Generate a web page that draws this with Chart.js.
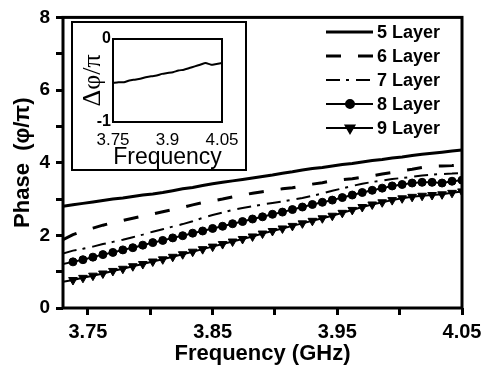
<!DOCTYPE html>
<html>
<head>
<meta charset="utf-8">
<script src="https://cdn.jsdelivr.net/npm/chart.js@4.4.1/dist/chart.umd.min.js"></script>
<style>
  body { margin: 0; background: #fff; }
  #wrap { position: relative; width: 488px; height: 370px; }
  #mainChart { position: absolute; left: 0; top: 0; }
  #insetChart { position: absolute; left: 71px; top: 21px; }
</style>
</head>
<body>
<div id="wrap">
  <canvas id="mainChart" width="488" height="370"></canvas>
  <canvas id="insetChart" width="177" height="150"></canvas>
</div>
<script>
// ============================================
// data
// ============================================
const freqs = [
  3.730, 3.738, 3.746, 3.754, 3.762, 3.770, 3.778, 3.786, 3.794, 3.802,
  3.810, 3.818, 3.826, 3.834, 3.842, 3.850, 3.858, 3.866, 3.874, 3.882,
  3.890, 3.898, 3.906, 3.914, 3.922, 3.930, 3.938, 3.946, 3.954, 3.962,
  3.970, 3.978, 3.986, 3.994, 4.002, 4.010, 4.018, 4.026, 4.034, 4.042,
  4.050,
];
const layer5 = [
  2.80, 2.84, 2.88, 2.92, 2.96, 3.00, 3.03, 3.07, 3.11, 3.14,
  3.18, 3.23, 3.28, 3.32, 3.37, 3.42, 3.46, 3.50, 3.54, 3.58,
  3.62, 3.66, 3.71, 3.75, 3.80, 3.84, 3.87, 3.91, 3.95, 3.98,
  4.02, 4.06, 4.09, 4.13, 4.16, 4.20, 4.23, 4.26, 4.29, 4.32,
  4.35,
];
const layer6 = [
  1.88, 2.02, 2.12, 2.20, 2.28, 2.35, 2.41, 2.47, 2.53, 2.59,
  2.65, 2.71, 2.77, 2.84, 2.90, 2.95, 3.00, 3.06, 3.11, 3.16,
  3.20, 3.24, 3.28, 3.31, 3.36, 3.41, 3.45, 3.50, 3.53, 3.56,
  3.60, 3.64, 3.69, 3.73, 3.78, 3.82, 3.87, 3.90, 3.91, 3.92,
  3.94,
];
const layer7 = [
  1.50, 1.58, 1.63, 1.69, 1.76, 1.82, 1.88, 1.95, 2.02, 2.10,
  2.17, 2.24, 2.31, 2.39, 2.48, 2.56, 2.63, 2.70, 2.75, 2.80,
  2.85, 2.89, 2.93, 2.98, 3.03, 3.09, 3.15, 3.23, 3.29, 3.36,
  3.42, 3.47, 3.51, 3.55, 3.58, 3.61, 3.65, 3.67, 3.69, 3.70,
  3.72,
];
const layer8 = [
  1.21, 1.27, 1.33, 1.40, 1.47, 1.53, 1.60, 1.66, 1.73, 1.80,
  1.86, 1.93, 1.99, 2.06, 2.12, 2.19, 2.25, 2.32, 2.38, 2.45,
  2.51, 2.58, 2.64, 2.71, 2.78, 2.85, 2.91, 2.97, 3.04, 3.11,
  3.18, 3.24, 3.30, 3.36, 3.40, 3.44, 3.46, 3.46, 3.44, 3.49,
  3.52,
];
const layer9 = [
  0.72, 0.77, 0.83, 0.89, 0.95, 1.02, 1.08, 1.15, 1.21, 1.28,
  1.34, 1.41, 1.48, 1.55, 1.62, 1.69, 1.76, 1.83, 1.90, 1.97,
  2.05, 2.12, 2.19, 2.26, 2.33, 2.40, 2.47, 2.54, 2.62, 2.70,
  2.78, 2.85, 2.91, 2.97, 3.02, 3.06, 3.09, 3.11, 3.13, 3.17,
  3.21,
];
const layerNames = ["5 Layer", "6 Layer", "7 Layer", "8 Layer", "9 Layer"];

const xTickValues = [3.75, 3.80, 3.85, 3.90, 3.95, 4.00, 4.05];
const xTickLabels = ["3.75", "", "3.85", "", "3.95", "", "4.05"];
const yTickLabels = ["0", "", "2", "", "4", "", "6", "", "8"];

// inset: phase difference
const insetFreqs = [
  3.750, 3.765, 3.780, 3.795, 3.810, 3.825, 3.840, 3.855, 3.870, 3.885,
  3.900, 3.915, 3.930, 3.945, 3.960, 3.975, 3.990, 4.005, 4.020, 4.035,
  4.050,
];
const insetPhase = [
  -0.53, -0.52, -0.52, -0.50, -0.49, -0.48, -0.46, -0.45, -0.44, -0.42,
  -0.41, -0.40, -0.38, -0.37, -0.35, -0.33, -0.31, -0.29, -0.31, -0.30,
  -0.29,
];
const insetXTicks = [3.75, 3.9, 4.05];
const insetXLabels = ["3.75", "3.9", "4.05"];

// ============================================
// helpers
// ============================================
const SANS = "'Liberation Sans', Arial, sans-serif";

function toPoints(xs, ys) {
  return xs.map((x, i) => ({ x: x, y: ys[i] }));
}

const frameBox = {
  id: "frameBox",
  beforeDraw(chart) {
    const ctx = chart.ctx;
    ctx.save();
    ctx.fillStyle = "#fff";
    ctx.fillRect(0, 0, chart.width, chart.height);
    ctx.restore();
  },
  afterDatasetsDraw(chart, args, opts) {
    const a = chart.chartArea;
    const ctx = chart.ctx;
    ctx.save();
    ctx.strokeStyle = "#000";
    ctx.lineWidth = opts.width || 3;
    ctx.strokeRect(a.left, a.top, a.right - a.left, a.bottom - a.top);
    if (opts.outer) {
      ctx.lineWidth = 2;
      ctx.strokeRect(1, 1, chart.width - 3, chart.height - 2);
    }
    ctx.restore();
  },
};

const layerLegend = {
  id: "layerLegend",
  afterDraw(chart) {
    const ctx = chart.ctx;
    chart.data.datasets.forEach((ds, i) => {
      const y = 32 + i * 24;
      ctx.save();
      ctx.strokeStyle = "#000";
      ctx.fillStyle = "#000";
      ctx.lineWidth = ds.borderWidth;
      ctx.setLineDash(ds.borderDash || []);
      ctx.beginPath();
      ctx.moveTo(326, y);
      ctx.lineTo(373, y);
      ctx.stroke();
      ctx.setLineDash([]);
      if (ds.markerRadius) {
        Chart.helpers.drawPoint(
          ctx,
          {
            pointStyle: ds.pointStyle,
            rotation: ds.pointRotation || 0,
            radius: ds.markerRadius,
            borderWidth: 1,
          },
          350,
          y,
        );
      }
      ctx.font = "bold 18px " + SANS;
      ctx.textBaseline = "middle";
      ctx.fillText(ds.label, 377, y + 1);
      ctx.restore();
    });
  },
};

// ============================================
// main chart
// ============================================
const layerData = [layer5, layer6, layer7, layer8, layer9];
const layerStyles = [
  { borderWidth: 3, borderDash: [] },
  { borderWidth: 3, borderDash: [15, 17] },
  { borderWidth: 2, borderDash: [14, 6, 3, 7] },
  { borderWidth: 2, borderDash: [], pointStyle: "circle", markerRadius: 4 },
  { borderWidth: 2, borderDash: [], pointStyle: "triangle", markerRadius: 5, pointRotation: 180 },
];

const datasets = layerData.map((vals, i) => {
  const st = layerStyles[i];
  return {
    label: layerNames[i],
    data: toPoints(freqs, vals),
    borderColor: "#000",
    backgroundColor: "#000",
    borderWidth: st.borderWidth,
    borderDash: st.borderDash,
    pointStyle: st.pointStyle || "circle",
    pointRotation: st.pointRotation || 0,
    markerRadius: st.markerRadius || 0,
    pointRadius: (c) => (st.markerRadius && c.dataIndex > 0 ? st.markerRadius : 0),
    pointBorderWidth: 1,
    tension: 0,
  };
});

new Chart(document.getElementById("mainChart"), {
  type: "line",
  data: { datasets: datasets },
  options: {
    responsive: false,
    animation: false,
    layout: { padding: { top: 15, right: 26, left: 0, bottom: 0 } },
    plugins: {
      legend: { display: false },
      tooltip: { enabled: false },
      frameBox: { width: 3 },
    },
    scales: {
      x: {
        type: "linear",
        min: 3.73,
        max: 4.05,
        afterBuildTicks: (axis) => {
          axis.ticks = xTickValues.map((v) => ({ value: v }));
        },
        afterFit: (axis) => {
          axis.height = 62;
        },
        ticks: {
          autoSkip: false,
          maxRotation: 0,
          padding: 5,
          color: "#000",
          font: { family: SANS, size: 20, weight: "bold" },
          callback: (v, i) => xTickLabels[i],
        },
        grid: {
          drawOnChartArea: false,
          tickLength: 7,
          tickWidth: 3,
          tickColor: "#000",
        },
        border: { display: false },
        title: {
          display: true,
          text: "Frequency (GHz)",
          color: "#000",
          padding: { top: 0, bottom: 3 },
          font: { family: SANS, size: 22, weight: "bold" },
        },
      },
      y: {
        min: 0,
        max: 8,
        afterFit: (axis) => {
          axis.width = 63;
        },
        ticks: {
          stepSize: 1,
          padding: 6,
          color: "#000",
          font: { family: SANS, size: 19, weight: "bold" },
          callback: (v, i) => yTickLabels[i],
        },
        grid: {
          drawOnChartArea: false,
          tickLength: 7,
          tickWidth: 3,
          tickColor: "#000",
        },
        border: { display: false },
        title: {
          display: true,
          text: "Phase  (\u03C6/\u03C0)",
          color: "#000",
          padding: { top: 10, bottom: 0 },
          font: { family: SANS, size: 22, weight: "bold" },
        },
      },
    },
  },
  plugins: [frameBox, layerLegend],
});

// ============================================
// inset chart
// ============================================
new Chart(document.getElementById("insetChart"), {
  type: "line",
  data: {
    datasets: [
      {
        data: toPoints(insetFreqs, insetPhase),
        borderColor: "#000",
        borderWidth: 2,
        pointRadius: 0,
        tension: 0.2,
      },
    ],
  },
  options: {
    responsive: false,
    animation: false,
    layout: { padding: { top: 18, right: 26, left: 0, bottom: 0 } },
    plugins: {
      legend: { display: false },
      tooltip: { enabled: false },
      frameBox: { width: 2, outer: true },
    },
    scales: {
      x: {
        type: "linear",
        min: 3.75,
        max: 4.05,
        afterBuildTicks: (axis) => {
          axis.ticks = insetXTicks.map((v) => ({ value: v }));
        },
        afterFit: (axis) => {
          axis.height = 49;
        },
        ticks: {
          autoSkip: false,
          maxRotation: 0,
          padding: 8,
          color: "#000",
          font: { family: SANS, size: 17 },
          callback: (v, i) => insetXLabels[i],
        },
        grid: { display: false, drawTicks: false },
        border: { display: false },
        title: {
          display: true,
          text: "Frequency",
          color: "#000",
          padding: { top: 0, bottom: 0 },
          font: { family: SANS, size: 23 },
        },
      },
      y: {
        min: -1,
        max: 0,
        afterFit: (axis) => {
          axis.width = 42;
        },
        ticks: {
          stepSize: 1,
          padding: 2,
          color: "#000",
          font: { family: SANS, size: 16, weight: "bold" },
        },
        grid: { display: false, drawTicks: false },
        border: { display: false },
        title: {
          display: true,
          text: "\u0394\u03C6/\u03C0",
          color: "#000",
          padding: { top: 7, bottom: 0 },
          font: { family: "'Liberation Serif', 'DejaVu Serif', serif", size: 26 },
        },
      },
    },
  },
  plugins: [frameBox],
});
</script>
</body>
</html>
